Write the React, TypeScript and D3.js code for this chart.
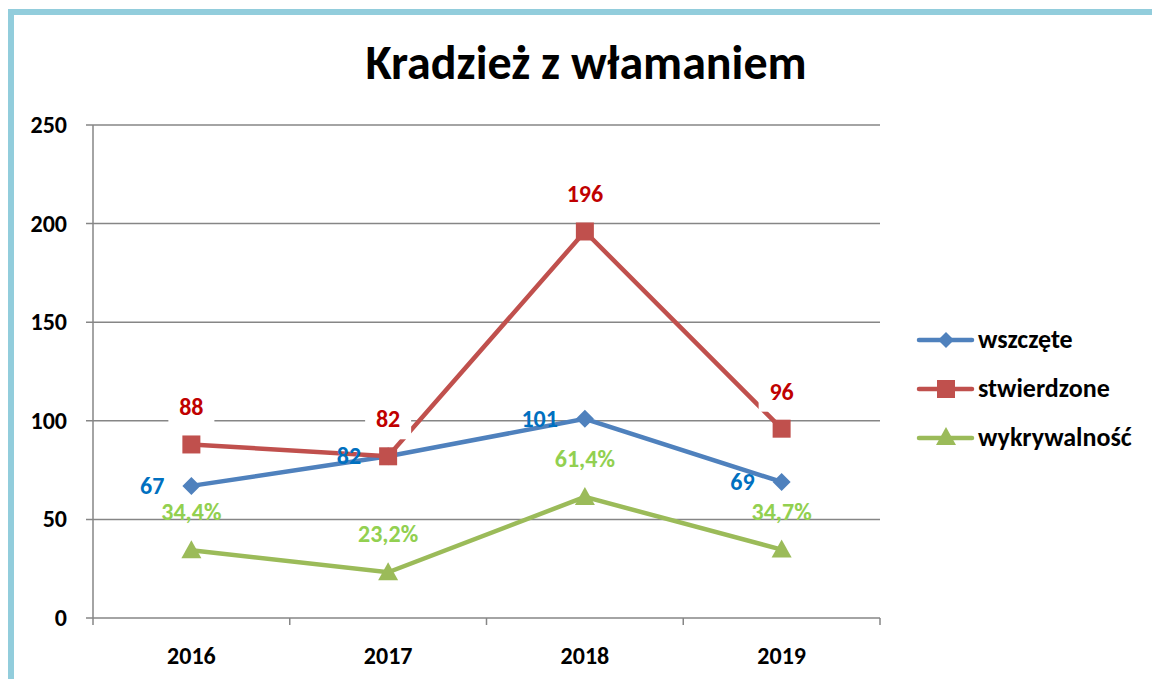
import React from "react";
import * as d3 from "d3";

const years = ["2016", "2017", "2018", "2019"];
const wszczete = [67, 82, 101, 69];
const stwierdzone = [88, 82, 196, 96];
const wykrywalnosc = [34.4, 23.2, 61.4, 34.7];
const wykrywalnoscLabels = ["34,4%", "23,2%", "61,4%", "34,7%"];
const yTicks = [0, 50, 100, 150, 200, 250];
const seriesNames = ["wszczęte", "stwierdzone", "wykrywalność"];

const FONT = "Carlito, Calibri, Lato, 'Open Sans', sans-serif";

export default function App() {
  const W = 1152, H = 679;
  const left = 93, right = 880, top = 125, bottom = 618;
  const x = d3.scaleBand<string>().domain(years).range([left, right]).padding(0);
  const y = d3.scaleLinear().domain([0, 250]).range([bottom, top]);
  const cx = (yr: string) => (x(yr) as number) + x.bandwidth() / 2;
  const line = d3.line<[number, number]>().x(d => d[0]).y(d => d[1]);

  const blue = "#4F81BD", red = "#C0504D", green = "#9BBB59";
  const blueL = "#0070C0", redL = "#C00000", greenL = "#92D050";

  const pts = (vals: number[]) => years.map((yr, i) => [cx(yr), y(vals[i])] as [number, number]);
  const bounds = years.map(yr => x(yr) as number).concat([right]);

  const diamond = (px: number, py: number, s: number) =>
    `M${px},${py - s}L${px + s},${py}L${px},${py + s}L${px - s},${py}Z`;
  const triangle = (px: number, py: number, s: number) =>
    `M${px},${py - s}L${px + s},${py + s * 0.8}L${px - s},${py + s * 0.8}Z`;

  return (
    <div style={{ position: "absolute", left: 0, top: 0 }}>
      <svg width={W} height={H} style={{ display: "block" }} fontFamily={FONT}>
        <rect x={0} y={0} width={W} height={H} fill="#fff" />
        <rect x={11} y={12} width={W + 20} height={H + 20} fill="none" stroke="#92CDDC" strokeWidth={6} />
        <text x={586} y={79} textAnchor="middle" fontSize={48} fontWeight="bold" fill="#000">
          Kradzież z włamaniem
        </text>
        {/* grid */}
        {yTicks.map(t => (
          <g key={t}>
            <line x1={left - 7} x2={right} y1={y(t)} y2={y(t)} stroke="#868686" strokeWidth={1.5} />
            <text x={67} y={y(t) + 8} textAnchor="end" fontSize={24} fontWeight="bold" fill="#000">
              {t}
            </text>
          </g>
        ))}
        <line x1={left} x2={left} y1={top} y2={bottom} stroke="#868686" strokeWidth={1.5} />
        {bounds.map((b, i) => (
          <line key={i} x1={b} x2={b} y1={bottom} y2={bottom + 7} stroke="#868686" strokeWidth={1.5} />
        ))}
        {years.map(yr => (
          <text key={yr} x={cx(yr)} y={664} textAnchor="middle" fontSize={24} fontWeight="bold" fill="#000">
            {yr}
          </text>
        ))}
        {/* lines */}
        <path d={line(pts(wykrywalnosc)) as string} fill="none" stroke={green} strokeWidth={4.5} />
        <path d={line(pts(wszczete)) as string} fill="none" stroke={blue} strokeWidth={4.5} />
        <path d={line(pts(stwierdzone)) as string} fill="none" stroke={red} strokeWidth={4.5} />
        {pts(wykrywalnosc).map(([px, py], i) => (
          <path key={"g" + i} d={triangle(px, py, 10)} fill={green} />
        ))}
        {pts(wszczete).map(([px, py], i) => (
          <path key={"b" + i} d={diamond(px, py, 9)} fill={blue} />
        ))}
        {pts(stwierdzone).map(([px, py], i) => (
          <rect key={"r" + i} x={px - 9} y={py - 9} width={18} height={18} fill={red} />
        ))}
        {/* labels */}
        {pts(stwierdzone).map(([px, py], i) => (
          <g key={"rl" + i}>
            <rect x={px - 23} y={py - 56} width={46} height={39} fill="#fff" />
            <text x={px} y={py - 29} textAnchor="middle" fontSize={24} fontWeight="bold" fill={redL}>
              {stwierdzone[i]}
            </text>
          </g>
        ))}
        {pts(wszczete).map(([px, py], i) => (
          <text key={"bl" + i} x={px - 27} y={py + 8} textAnchor="end" fontSize={24} fontWeight="bold" fill={blueL}>
            {wszczete[i]}
          </text>
        ))}
        {pts(wykrywalnosc).map(([px, py], i) => (
          <text key={"gl" + i} x={px} y={py - 30} textAnchor="middle" fontSize={24} fontWeight="bold" fill={greenL}>
            {wykrywalnoscLabels[i]}
          </text>
        ))}
        {/* legend */}
        {seriesNames.map((n, i) => {
          const ly = 340 + i * 49;
          const c = [blue, red, green][i];
          return (
            <g key={n}>
              <line x1={919} x2={972} y1={ly} y2={ly} stroke={c} strokeWidth={4.5} strokeLinecap="round" />
              {i === 0 && <path d={diamond(946, ly, 8)} fill={c} />}
              {i === 1 && <rect x={937} y={ly - 9} width={18} height={18} fill={c} />}
              {i === 2 && <path d={triangle(946, ly - 1, 10)} fill={c} />}
              <text x={978} y={ly + 8} fontSize={26} fontWeight="bold" fill="#000">
                {n}
              </text>
            </g>
          );
        })}
      </svg>
    </div>
  );
}
